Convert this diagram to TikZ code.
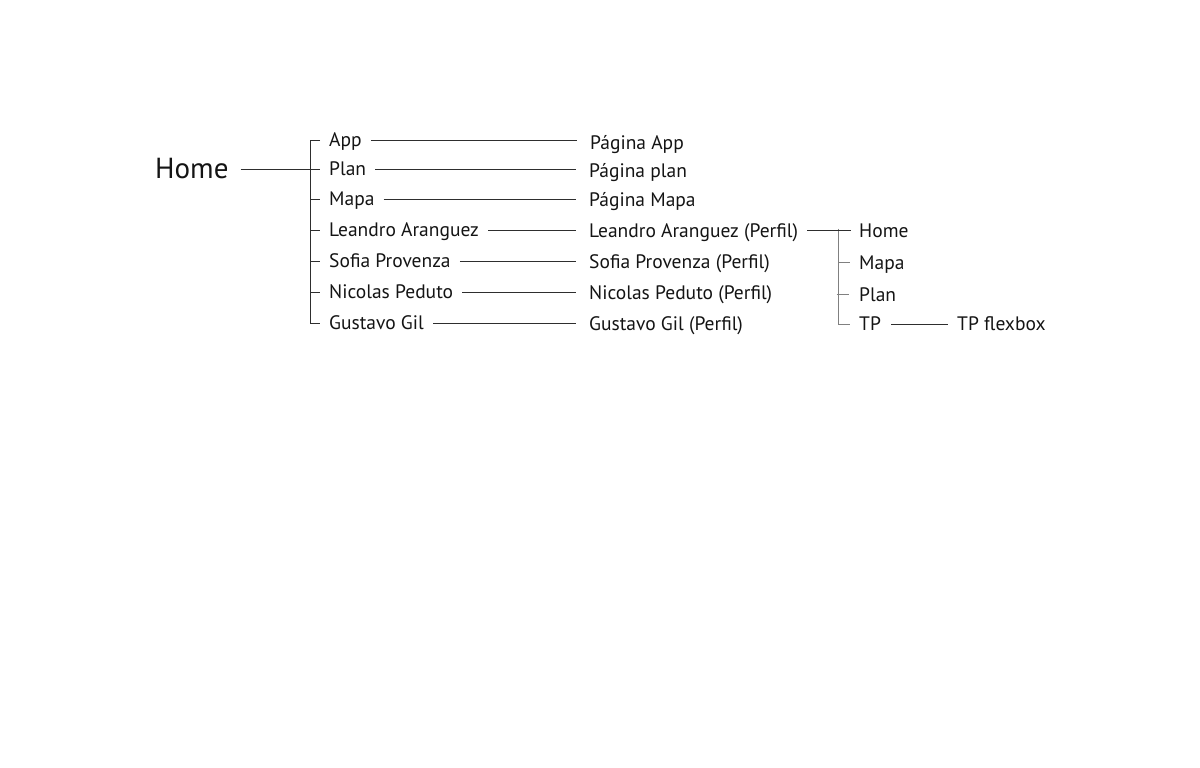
\documentclass[tikz,border=0pt]{standalone}
\usepackage{fontspec}
\setmainfont{PT Sans}
\definecolor{ink}{HTML}{141414}
\definecolor{wirec}{HTML}{2E2E2E}
\definecolor{subc}{HTML}{808080}
\begin{document}
\begin{tikzpicture}[x=1pt,y=-1pt,
  lbl/.style={inner sep=0pt, anchor=west, text height=13.4pt, text depth=0pt,
    font=\fontsize{19.5}{22}\selectfont, text=ink},
  biglbl/.style={inner sep=0pt, anchor=west, text height=19.5pt, text depth=0pt,
    font=\fontsize{29}{32}\selectfont, text=ink},
  wire/.style={draw=wirec, line width=0.8pt},
  link/.style={wire, shorten <=9pt, shorten >=13pt},
  subwire/.style={draw=subc, line width=1pt}]
\useasboundingbox (0,0) rectangle (1200,768);

% root
\node[biglbl] (home) at (155,169) {Home};
\coordinate (bar) at (310,0);

% first column
\node[lbl] (app)     at (329,140) {App};
\node[lbl] (plan)    at (329,169) {Plan};
\node[lbl] (mapa)    at (329,199) {Mapa};
\node[lbl] (leandro) at (329,230) {Leandro Aranguez};
\node[lbl] (sofia)   at (329,261) {Sofia Provenza};
\node[lbl] (nicolas) at (329,292) {Nicolas Peduto};
\node[lbl] (gustavo) at (329,323) {Gustavo Gil};

% second column
\node[lbl] (papp)     at (590,142.5) {Página App};
\node[lbl] (pplan)    at (589,171) {Página plan};
\node[lbl] (pmapa)    at (589,200) {Página Mapa};
\node[lbl] (pleandro) at (589,230.5) {Leandro Aranguez (Perfil)};
\node[lbl] (psofia)   at (589,261.5) {Sofia Provenza (Perfil)};
\node[lbl] (pnicolas) at (589,292.5) {Nicolas Peduto (Perfil)};
\node[lbl] (pgustavo) at (589,323.5) {Gustavo Gil (Perfil)};

% third column
\node[lbl] (shome) at (859,230.5) {Home};
\node[lbl] (smapa) at (859,262.5) {Mapa};
\node[lbl] (splan) at (859,294.5) {Plan};
\node[lbl] (stp)   at (859,324) {TP};
\node[lbl] (flex)  at (957,324) {TP flexbox};
\coordinate (sbar) at (838.5,0);

% root connector and bracket
\draw[wire] ([xshift=12pt]home.east) -- (home.east -| bar);
\draw[wire] ([xshift=-9pt]app.west) -- (app.west -| bar)
  -- (gustavo.west -| bar) -- ([xshift=-9pt]gustavo.west);
\foreach \n in {plan,mapa,leandro,sofia,nicolas}
  \draw[wire] (\n.west -| bar) -- ([xshift=-9pt]\n.west);

% first to second column
\draw[link] (app.east) -- (app.east -| papp.west);
\draw[link] (plan.east) -- (plan.east -| pplan.west);
\draw[link] (mapa.east) -- (mapa.east -| pmapa.west);
\draw[link] (leandro.east) -- (leandro.east -| pleandro.west);
\draw[link] (sofia.east) -- (sofia.east -| psofia.west);
\draw[link] (nicolas.east) -- (nicolas.east -| pnicolas.west);
\draw[link] (gustavo.east) -- (gustavo.east -| pgustavo.west);

% sub tree of Leandro Aranguez (Perfil)
\path (sbar |- shome.west) coordinate (sb1)
      (sbar |- stp.west) coordinate (sb4)
      (sbar |- splan.west) coordinate (sb3);
\draw[subwire] ([yshift=2pt]sb1) -- (sb4) -- ([xshift=-9pt]stp.west);
\draw[subwire] (sbar |- smapa.west) -- ([xshift=-9pt]smapa.west);
\draw[subwire] ([xshift=-2pt]sb3) -- ([xshift=-10pt]splan.west);
\draw[wire] ([xshift=9pt]pleandro.east) -- ([xshift=-8pt]shome.west);
\draw[wire, shorten <=10pt, shorten >=9pt] (stp.east) -- (flex.west);
\end{tikzpicture}
\end{document}
